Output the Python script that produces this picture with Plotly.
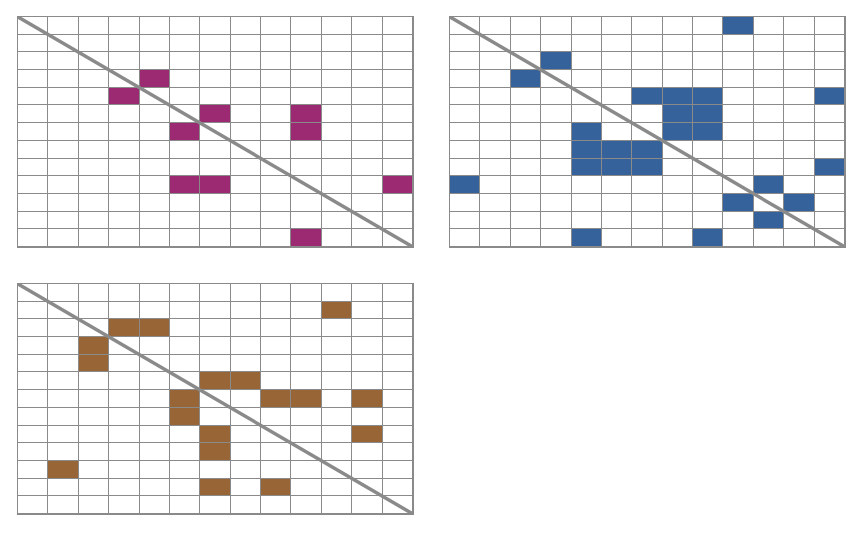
import plotly.graph_objects as go

n = 13
cols = list(range(n))
rows = list(range(n))

# filled cells per row (row index from top -> list of column indices)
cells_a = [[], [], [], [4], [3], [6, 9], [5, 9], [], [], [5, 6, 12], [], [], [9]]
cells_b = [[9], [], [3], [2], [6, 7, 8, 12], [7, 8], [4, 7, 8], [4, 5, 6], [4, 5, 6, 12],
           [0, 10], [9, 11], [10], [4, 8]]
cells_c = [[], [10], [3, 4], [2], [2], [6, 7], [5, 8, 9, 11], [5], [6, 11], [6], [1], [6, 8], []]

colors = ["#9b2a73", "#36629b", "#986537"]
grid_color = "#8a8a8a"


def to_matrix(cells):
    return [[1 if c in r else 0 for c in cols] for r in cells]


panels = [
    (to_matrix(cells_a), colors[0], [0.02083, 0.47801], [0.5366, 0.96811]),
    (to_matrix(cells_b), colors[1], [0.52083, 0.97801], [0.5366, 0.96811]),
    (to_matrix(cells_c), colors[2], [0.02083, 0.47801], [0.03565, 0.46717]),
]

fig = go.Figure()
layout = {}
for i, (z, col, dx, dy) in enumerate(panels, start=1):
    xa = "x" if i == 1 else f"x{i}"
    ya = "y" if i == 1 else f"y{i}"
    fig.add_trace(go.Heatmap(
        z=z, x=cols, y=rows, xaxis=xa, yaxis=ya,
        zmin=0, zmax=1, colorscale=[[0, "white"], [1, col]],
        showscale=False, xgap=1, ygap=1, hoverinfo="skip"))
    fig.add_trace(go.Scatter(
        x=[cols[0] - 0.5, cols[-1] + 0.5], y=[rows[0] - 0.5, rows[-1] + 0.5],
        xaxis=xa, yaxis=ya, mode="lines",
        line=dict(color=grid_color, width=3.5), showlegend=False, hoverinfo="skip"))
    common = dict(showgrid=False, zeroline=False, showticklabels=False, ticks="",
                  showline=True, mirror=True, linecolor=grid_color, linewidth=1)
    layout[f"xaxis{'' if i == 1 else i}"] = dict(domain=dx, range=[-0.5, n - 0.5],
                                                  anchor=ya, **common)
    layout[f"yaxis{'' if i == 1 else i}"] = dict(domain=dy, range=[n - 0.5, -0.5],
                                                  anchor=xa, **common)

fig.update_layout(
    width=864, height=533,
    margin=dict(l=0, r=0, t=0, b=0),
    paper_bgcolor="white", plot_bgcolor=grid_color,
    showlegend=False,
    **layout,
)
fig.write_html("out.html")
